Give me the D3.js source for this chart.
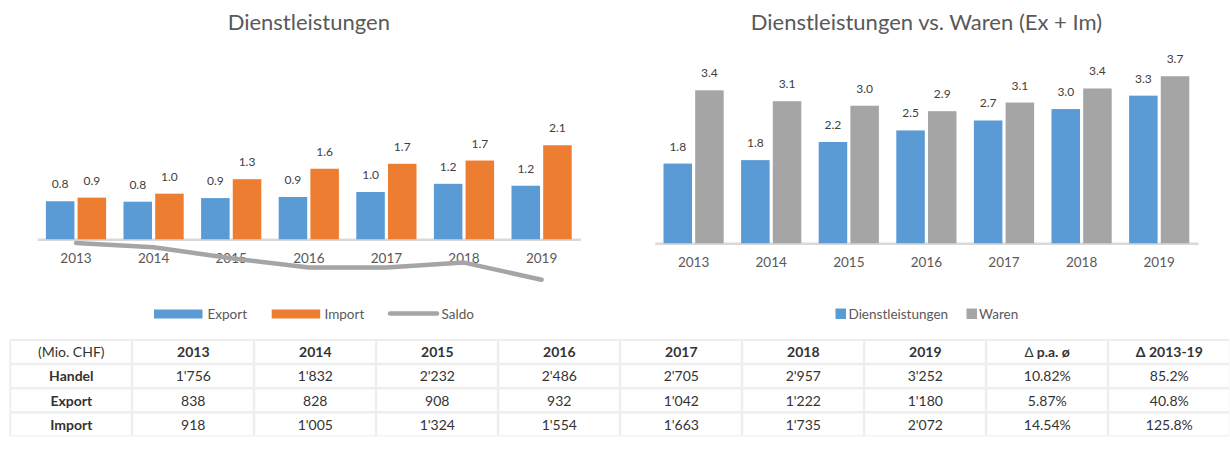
<!DOCTYPE html>
<html lang="de">
<head>
<meta charset="utf-8">
<title>Dienstleistungen</title>
<script src="https://cdn.jsdelivr.net/npm/d3@7"></script>
<style>
  body{margin:0;background:#fff;font-family:Lato, "Noto Sans", sans-serif;}
  svg text{font-family:Lato, "Noto Sans", sans-serif;}
</style>
</head>
<body>
<div id="chart"></div>
<script>
// values in Mio. CHF
var years = ["2013","2014","2015","2016","2017","2018","2019"]
var exportVals = [838, 828, 908, 932, 1042, 1222, 1180]
var importVals = [918, 1005, 1324, 1554, 1663, 1735, 2072]
var saldoVals = [-80, -177, -416, -622, -621, -513, -892]
var handelVals = [1756, 1832, 2232, 2486, 2705, 2957, 3252]
// Waren (Ex + Im)
var warenVals = [3370, 3130, 3030, 2910, 3100, 3410, 3680]
// table columns / rows
var tableHeader = ["(Mio. CHF)","2013","2014","2015","2016","2017","2018","2019","\u2206 p.a. \u00f8","\u0394 2013-19"]
var rowNames = ["Handel","Export","Import"]
var growthPa = ["10.82%","5.87%","14.54%"]
var growthTotal = ["85.2%","40.8%","125.8%"]

var W = 1230, H = 458
var svg = d3.select("#chart").append("svg").attr("width",W).attr("height",H)

var fmt1 = function(v){ return d3.format(".1f")(v/1000) }
var fmtTh = function(v){ return d3.format(",")(v).replace(/,/g,"'") }

function barChart(opt){
    var x = d3.scaleBand().domain(years).range(opt.xr)
    var sub = d3.scaleBand().domain(opt.keys).range([8.7, 68.9]).paddingInner(0.1)
    var y = d3.scaleLinear().domain([0,1000]).range([opt.base, opt.base-45.4])

    var g = svg.append("g")

    g.append("text")
        .attr("x",(opt.xr[0]+opt.xr[1])/2)
        .attr("y",30)
        .attr("text-anchor","middle")
        .attr("font-size",22)
        .attr("fill","#595959")
        .text(opt.title)

    var axis = g.append("g")
        .attr("transform","translate(0,"+opt.base+")")
        .call(d3.axisBottom(x).tickSize(0).tickSizeOuter(0).tickPadding(14))
    axis.select(".domain").attr("stroke","#d9d9d9").attr("stroke-width",2.5)
    axis.selectAll("text").attr("font-size",13.5).attr("fill","#595959").style("font-family","Lato")

    if(opt.line){
        g.append("path")
            .datum(opt.line)
            .attr("fill","none")
            .attr("stroke","#a5a5a5")
            .attr("stroke-width",4.5)
            .attr("stroke-linecap","round")
            .attr("stroke-linejoin","round")
            .attr("d",d3.line()
                .x(function(d,i){ return x(years[i]) + x.bandwidth()/2 })
                .y(function(d){ return y(d) }))
    }

    opt.keys.forEach(function(k,j){
        var vals = opt.series[j]
        g.selectAll(".bar"+j)
            .data(vals)
            .enter()
            .append("rect")
            .attr("x",function(d,i){ return x(years[i]) + sub(k) })
            .attr("y",function(d){ return y(d) })
            .attr("width",sub.bandwidth())
            .attr("height",function(d){ return opt.base - y(d) })
            .attr("fill",opt.colors[j])
        g.selectAll(".lab"+j)
            .data(vals)
            .enter()
            .append("text")
            .attr("x",function(d,i){ return x(years[i]) + sub(k) + sub.bandwidth()/2 })
            .attr("y",function(d){ return y(d) - 13 })
            .attr("text-anchor","middle")
            .attr("font-size",12)
            .attr("fill","#404040")
            .text(function(d){ return fmt1(d) })
    })
}

barChart({
    title:"Dienstleistungen",
    xr:[37.2, 580.4], base:239.3,
    keys:["Export","Import"],
    series:[exportVals, importVals],
    colors:["#5b9bd5","#ed7d31"],
    line:saldoVals
})
barChart({
    title:"Dienstleistungen vs. Waren (Ex + Im)",
    xr:[654.8, 1198], base:243.3,
    keys:["Dienstleistungen","Waren"],
    series:[handelVals, warenVals],
    colors:["#5b9bd5","#a5a5a5"]
})

// legends
var leg = svg.append("g").attr("font-size",13.5).attr("fill","#595959")
leg.append("rect").attr("x",154).attr("y",309.5).attr("width",48.5).attr("height",9).attr("fill","#5b9bd5")
leg.append("text").attr("x",207.5).attr("y",314).attr("dy","0.35em").text("Export")
leg.append("rect").attr("x",271.7).attr("y",309.5).attr("width",48.5).attr("height",9).attr("fill","#ed7d31")
leg.append("text").attr("x",324.5).attr("y",314).attr("dy","0.35em").text("Import")
leg.append("line").attr("x1",390).attr("x2",437).attr("y1",313.5).attr("y2",313.5)
    .attr("stroke","#a5a5a5").attr("stroke-width",4.5).attr("stroke-linecap","round")
leg.append("text").attr("x",441.5).attr("y",314).attr("dy","0.35em").text("Saldo")
leg.append("rect").attr("x",835.5).attr("y",308.5).attr("width",10.5).attr("height",10.5).attr("fill","#5b9bd5")
leg.append("text").attr("x",848.5).attr("y",314).attr("dy","0.35em").text("Dienstleistungen")
leg.append("rect").attr("x",966.5).attr("y",308.5).attr("width",10.5).attr("height",10.5).attr("fill","#a5a5a5")
leg.append("text").attr("x",979).attr("y",314).attr("dy","0.35em").text("Waren")

// table
var tableRows = [tableHeader]
rowNames.forEach(function(r,i){
    var src = [handelVals, exportVals, importVals][i]
    tableRows.push([r].concat(src.map(fmtTh)).concat([growthPa[i], growthTotal[i]]))
})
var tx = d3.scaleBand().domain(d3.range(10)).range([9.3, 1229.3])
var ty = d3.scaleBand().domain(d3.range(4)).range([339.6, 436.4])

var tg = svg.append("g")
tg.append("rect").attr("x",9.3).attr("y",339).attr("width",1220).attr("height",97.4).attr("fill","#eeeeee")
tableRows.forEach(function(row,r){
    tg.selectAll(".c"+r)
        .data(row)
        .enter()
        .append("rect")
        .attr("x",function(d,c){ return tx(c)+2 })
        .attr("y",ty(r)+1.4)
        .attr("width",tx.bandwidth()-2.5)
        .attr("height",ty.bandwidth()-2.5)
        .attr("fill","#fff")
    tg.selectAll(".t"+r)
        .data(row)
        .enter()
        .append("text")
        .attr("x",function(d,c){ return tx(c)+tx.bandwidth()/2+1 })
        .attr("y",ty(r)+ty.bandwidth()/2+0.5)
        .attr("dy","0.35em")
        .attr("text-anchor","middle")
        .attr("font-size",14)
        .attr("fill","#333")
        .attr("font-weight",function(d,c){ return (r==0 && c>0) || c==0 && r>0 ? "bold" : "normal" })
        .each(function(d){
            var t = d3.select(this)
            if(d.charAt(0)=="\u2206"){
                t.append("tspan").attr("font-weight","normal").text("\u2206")
                t.append("tspan").text(d.slice(1))
            } else t.text(d)
        })
})
</script>
</body>
</html>
